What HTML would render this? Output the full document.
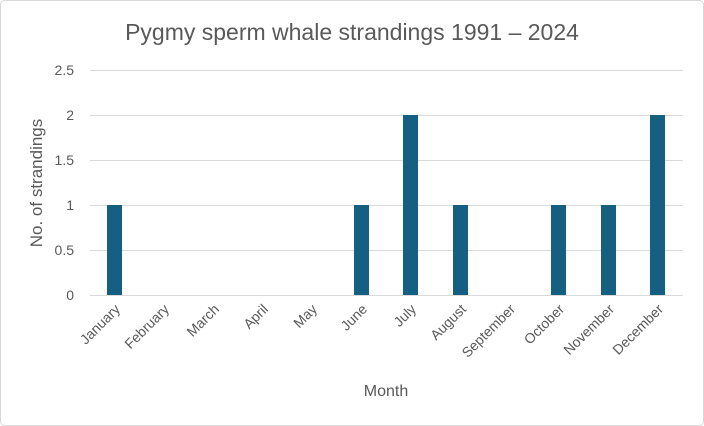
<!DOCTYPE html>
<html><head><style>
html,body{margin:0;padding:0;background:#fff;}
svg{display:block;font-family:"Liberation Sans",sans-serif;}
</style></head><body>
<svg width="704" height="426" viewBox="0 0 704 426" xmlns="http://www.w3.org/2000/svg">
<rect x="0.5" y="0.5" width="703" height="425" rx="4" fill="#fff" stroke="#d9d9d9"/>
<text x="352" y="40" text-anchor="middle" font-size="23" fill="#595959">Pygmy sperm whale strandings 1991 – 2024</text>
<g stroke="#d9d9d9" stroke-width="1">
<line x1="90" x2="683" y1="70.5" y2="70.5"/>
<line x1="90" x2="683" y1="115.5" y2="115.5"/>
<line x1="90" x2="683" y1="160.5" y2="160.5"/>
<line x1="90" x2="683" y1="205.5" y2="205.5"/>
<line x1="90" x2="683" y1="250.5" y2="250.5"/>
<line x1="90" x2="683" y1="295.5" y2="295.5"/>
</g>
<g font-size="14" fill="#595959" text-anchor="end">
<text x="74" y="75">2.5</text>
<text x="74" y="120">2</text>
<text x="74" y="165">1.5</text>
<text x="74" y="210">1</text>
<text x="74" y="255">0.5</text>
<text x="74" y="300">0</text>
</g>
<text transform="translate(42,183) rotate(-90)" text-anchor="middle" font-size="17" fill="#595959">No. of strandings</text>
<g fill="#156082">
<rect x="107" y="205" width="15" height="90"/>
<rect x="354" y="205" width="15" height="90"/>
<rect x="403" y="115" width="15" height="180"/>
<rect x="453" y="205" width="15" height="90"/>
<rect x="551" y="205" width="15" height="90"/>
<rect x="601" y="205" width="15" height="90"/>
<rect x="650" y="115" width="15" height="180"/>
</g>
<g font-size="14" fill="#595959" text-anchor="end">
<text transform="translate(121,310) rotate(-45)">January</text>
<text transform="translate(170,310) rotate(-45)">February</text>
<text transform="translate(220,310) rotate(-45)">March</text>
<text transform="translate(269,310) rotate(-45)">April</text>
<text transform="translate(318,310) rotate(-45)">May</text>
<text transform="translate(368,310) rotate(-45)">June</text>
<text transform="translate(417,310) rotate(-45)">July</text>
<text transform="translate(467,310) rotate(-45)">August</text>
<text transform="translate(516,310) rotate(-45)">September</text>
<text transform="translate(565,310) rotate(-45)">October</text>
<text transform="translate(615,310) rotate(-45)">November</text>
<text transform="translate(664,310) rotate(-45)">December</text>
</g>
<text x="386" y="396" text-anchor="middle" font-size="16" fill="#595959">Month</text>
</svg>
</body></html>
